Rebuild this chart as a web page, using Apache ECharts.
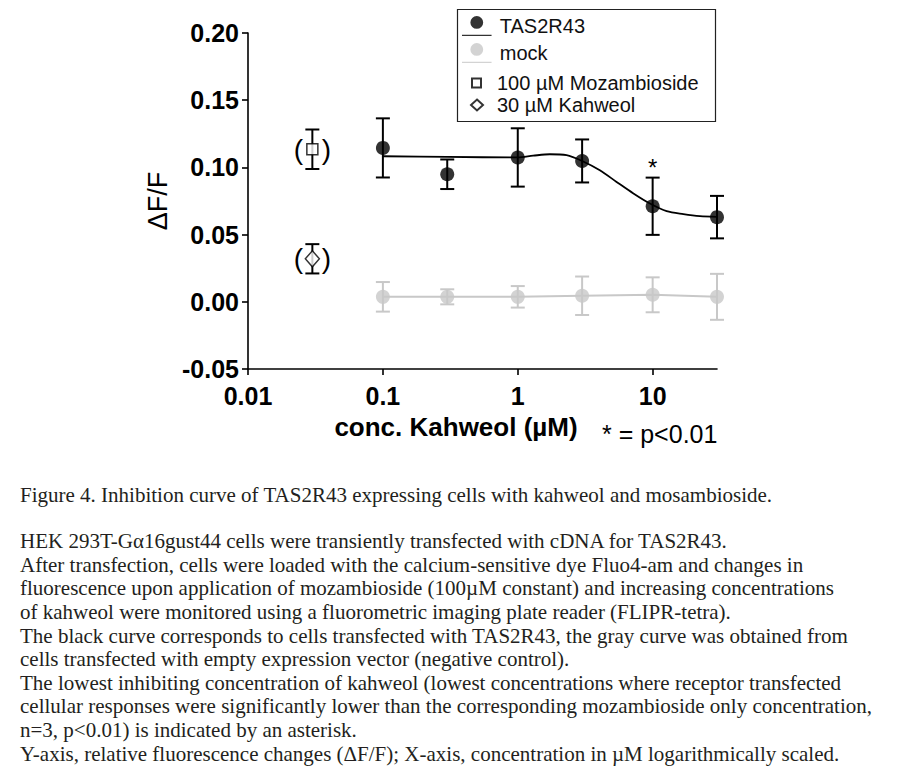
<!DOCTYPE html>
<html>
<head>
<meta charset="utf-8">
<script src="https://cdn.jsdelivr.net/npm/echarts@6/dist/echarts.min.js"></script>
<style>
  html, body { margin: 0; padding: 0; background: #fff; }
  #chart { width: 900px; height: 778px; }
</style>
</head>
<body>
<div id="chart"></div>
<script>
// ---- data ----
const concentrations = [0.1, 0.3, 1, 3, 10, 30];           // kahweol, µM
const tasMean = [0.1145, 0.0949, 0.1074, 0.1048, 0.0711, 0.0630];
const tasErr  = [0.0220, 0.0110, 0.0217, 0.0160, 0.0213, 0.0158];
const mockMean = [0.0037, 0.0037, 0.0037, 0.0045, 0.0052, 0.0037];
const mockErr  = [0.0110, 0.0056, 0.0080, 0.0143, 0.0130, 0.0171];
// fitted curve for TAS2R43
const fitX = [0.1, 0.3, 1, 1.3, 1.73, 2.3, 3, 4.06, 5.4, 7.2, 9.55, 12.7, 16.9, 22.4, 30];
const fitY = [0.1083, 0.1078, 0.1074, 0.1087, 0.1098, 0.1091, 0.1048, 0.0979, 0.0892, 0.0806, 0.0731, 0.0674, 0.0652, 0.0637, 0.0632];
// controls plotted at 0.03 on the axis
const controlX = 0.03;
const mozambiosideMean = 0.1135, mozambiosideErr = 0.0147;
const kahweolMean = 0.0320, kahweolErr = 0.0109;
// significance marks
const significantConc = [10];
// axis ticks
const xTicks = [0.01, 0.1, 1, 10];
const yMin = -0.05, yMax = 0.20, yStep = 0.05;

const captionLines = [
  "Figure 4. Inhibition curve of TAS2R43 expressing cells with kahweol and mosambioside.",
  "",
  "HEK 293T-G\u03b116gust44 cells were transiently transfected with cDNA for TAS2R43.",
  "After transfection, cells were loaded with the calcium-sensitive dye Fluo4-am and changes in",
  "fluorescence upon application of mozambioside (100\u00b5M constant) and increasing concentrations",
  "of kahweol were monitored using a fluorometric imaging plate reader (FLIPR-tetra).",
  "The black curve corresponds to cells transfected with TAS2R43, the gray curve was obtained from",
  "cells transfected with empty expression vector (negative control).",
  "The lowest inhibiting concentration of kahweol (lowest concentrations where receptor transfected",
  "cellular responses were significantly lower than the corresponding mozambioside only concentration,",
  "n=3, p<0.01) is indicated by an asterisk.",
  "Y-axis, relative fluorescence changes (\u0394F/F); X-axis, concentration in \u00b5M logarithmically scaled."
];

// ---- build ----
const BLACK = '#000000';
const GRAY = '#c8c8c8';
const SANS = '"Liberation Sans", Arial, sans-serif';
const SERIF = '"Liberation Serif", "Times New Roman", serif';

const tasPts = concentrations.map((x, i) => [x, tasMean[i]]);
const tasBars = concentrations.map((x, i) => [x, tasMean[i], tasErr[i]]);
const mockPts = concentrations.map((x, i) => [x, mockMean[i]]);
const mockBars = concentrations.map((x, i) => [x, mockMean[i], mockErr[i]]);
const fitPts = fitX.map((x, i) => [x, fitY[i]]);
const ctrlBars = [[controlX, mozambiosideMean, mozambiosideErr], [controlX, kahweolMean, kahweolErr]];
const sigPts = significantConc.map(c => {
  const i = concentrations.indexOf(c);
  return [c, tasMean[i] + tasErr[i]];
});

function errorBarRender(color) {
  return function (params, api) {
    const x = api.value(0), y = api.value(1), e = api.value(2);
    const p1 = api.coord([x, y + e]);
    const p2 = api.coord([x, y - e]);
    const hw = 7;
    const style = { stroke: color, lineWidth: 2, fill: null };
    return {
      type: 'group',
      children: [
        { type: 'line', shape: { x1: p1[0], y1: p1[1], x2: p2[0], y2: p2[1] }, style },
        { type: 'line', shape: { x1: p1[0] - hw, y1: p1[1], x2: p1[0] + hw, y2: p1[1] }, style },
        { type: 'line', shape: { x1: p2[0] - hw, y1: p2[1], x2: p2[0] + hw, y2: p2[1] }, style }
      ]
    };
  };
}

function bracketRender(params, api) {
  const p = api.coord([api.value(0), api.value(1)]);
  const st = { font: '28px ' + SANS, fill: BLACK, align: 'center', verticalAlign: 'middle' };
  return {
    type: 'group',
    children: [
      { type: 'text', x: p[0] - 14, y: p[1], style: Object.assign({ text: '(' }, st) },
      { type: 'text', x: p[0] + 14, y: p[1], style: Object.assign({ text: ')' }, st) }
    ]
  };
}

function asteriskRender(params, api) {
  const p = api.coord([api.value(0), api.value(1)]);
  return {
    type: 'text', x: p[0], y: p[1] - 10,
    style: { text: '*', font: '24px ' + SANS, fill: BLACK, align: 'center', verticalAlign: 'middle' }
  };
}

const circLine = 'path://M8.5,6.5 A6.5,6.5 0 1,1 21.5,6.5 A6.5,6.5 0 1,1 8.5,6.5 Z M0,19 L30,19 L30,20.3 L0,20.3 Z';
const legendText = { fontFamily: SANS, fontSize: 20, color: '#111' };

const captionGraphics = [];
let cy = 497;
captionLines.forEach((t, i) => {
  if (t) {
    captionGraphics.push({
      type: 'text', left: 20, top: cy - 13,
      style: { text: t, font: '21px ' + SERIF, fill: '#231f20' }
    });
  }
  cy += (i === 0) ? 23 : 23.6;
});

const option = {
  animation: false,
  backgroundColor: '#fff',
  grid: { left: 248, right: 183, top: 33, bottom: 409, containLabel: false },
  xAxis: {
    type: 'log', logBase: 10, min: 0.01, max: 30,
    axisLine: { onZero: false, lineStyle: { color: BLACK, width: 1.6 } },
    axisTick: { length: 6, lineStyle: { color: BLACK, width: 1.6 }, customValues: xTicks },
    axisLabel: {
      customValues: xTicks, margin: 14, color: BLACK,
      fontFamily: SANS, fontWeight: 'bold', fontSize: 25,
      formatter: v => String(v)
    },
    splitLine: { show: false }, minorTick: { show: false }
  },
  yAxis: {
    type: 'value', min: yMin, max: yMax, interval: yStep,
    name: '\u0394F/F', nameLocation: 'middle', nameRotate: 90, nameGap: 74,
    nameTextStyle: { fontFamily: SANS, fontSize: 27, color: BLACK },
    axisLine: { show: true, onZero: false, lineStyle: { color: BLACK, width: 1.6 } },
    axisTick: { show: true, length: 6, lineStyle: { color: BLACK, width: 1.6 } },
    axisLabel: {
      margin: 9, color: BLACK, fontFamily: SANS, fontWeight: 'bold', fontSize: 25,
      formatter: v => v.toFixed(2)
    },
    splitLine: { show: false }
  },
  legend: [
    { data: [{ name: 'TAS2R43', icon: circLine }], orient: 'vertical', left: 462, top: 16, padding: 0,
      itemWidth: 30, itemHeight: 20, selectedMode: false, textStyle: Object.assign({ padding: [0, 0, 9, 3] }, legendText) },
    { data: [{ name: 'mock', icon: circLine }], orient: 'vertical', left: 462, top: 43, padding: 0,
      itemWidth: 30, itemHeight: 20, selectedMode: false, textStyle: Object.assign({ padding: [0, 0, 9, 3] }, legendText) },
    { data: [{ name: '100 \u00b5M Mozambioside', icon: 'rect' }], orient: 'vertical', left: 471, top: 73, padding: 0,
      itemWidth: 9, itemHeight: 9, selectedMode: false, textStyle: Object.assign({ padding: [0, 0, 0, 11] }, legendText) },
    { data: [{ name: '30 \u00b5M Kahweol', icon: 'diamond' }], orient: 'vertical', left: 470, top: 95, padding: 0,
      itemWidth: 12, itemHeight: 11, selectedMode: false, textStyle: Object.assign({ padding: [0, 0, 0, 9] }, legendText) }
  ],
  series: [
    { name: 'mock line', type: 'line', data: mockPts, symbol: 'none', z: 2,
      lineStyle: { color: GRAY, width: 2 } },
    { name: 'mock error', type: 'custom', data: mockBars, encode: { x: 0, y: 1 }, z: 2,
      renderItem: errorBarRender(GRAY) },
    { name: 'mock', type: 'scatter', data: mockPts, symbol: 'circle', symbolSize: 14, z: 3,
      itemStyle: { color: GRAY } },
    { name: 'TAS2R43 fit', type: 'line', data: fitPts, symbol: 'none', smooth: 0.3, z: 4,
      lineStyle: { color: BLACK, width: 1.8 } },
    { name: 'TAS2R43 error', type: 'custom', data: tasBars, encode: { x: 0, y: 1 }, z: 4,
      renderItem: errorBarRender(BLACK) },
    { name: 'TAS2R43', type: 'scatter', data: tasPts, symbol: 'circle', symbolSize: 14, z: 5,
      itemStyle: { color: BLACK } },
    { name: 'control error', type: 'custom', data: ctrlBars, encode: { x: 0, y: 1 }, z: 4,
      renderItem: errorBarRender(BLACK) },
    { name: '100 \u00b5M Mozambioside', type: 'scatter', data: [[controlX, mozambiosideMean]],
      symbol: 'rect', symbolSize: 11, z: 5,
      itemStyle: { color: '#fff', borderColor: BLACK, borderWidth: 1.5 } },
    { name: '30 \u00b5M Kahweol', type: 'scatter', data: [[controlX, kahweolMean]],
      symbol: 'diamond', symbolSize: [14, 16], z: 5,
      itemStyle: { color: '#fff', borderColor: BLACK, borderWidth: 1.5 } },
    { name: 'brackets', type: 'custom', data: ctrlBars.map(d => [d[0], d[1]]), encode: { x: 0, y: 1 }, z: 5,
      renderItem: bracketRender },
    { name: 'significance', type: 'custom', data: sigPts, encode: { x: 0, y: 1 }, z: 5,
      renderItem: asteriskRender }
  ],
  graphic: [
    { type: 'rect', shape: { x: 457.5, y: 9.5, width: 258, height: 112 },
      style: { fill: null, stroke: '#222', lineWidth: 1.2 } },
    { type: 'text', x: 456, y: 427,
      style: { text: 'conc. Kahweol (\u00b5M)', font: 'bold 26px ' + SANS, fill: BLACK, align: 'center', verticalAlign: 'middle' } },
    { type: 'text', x: 602, y: 434,
      style: { text: '* = p<0.01', font: '25px ' + SANS, fill: BLACK, align: 'left', verticalAlign: 'middle' } }
  ].concat(captionGraphics)
};

const chart = echarts.init(document.getElementById('chart'), null, { renderer: 'svg' });
chart.setOption(option);
</script>
</body>
</html>
